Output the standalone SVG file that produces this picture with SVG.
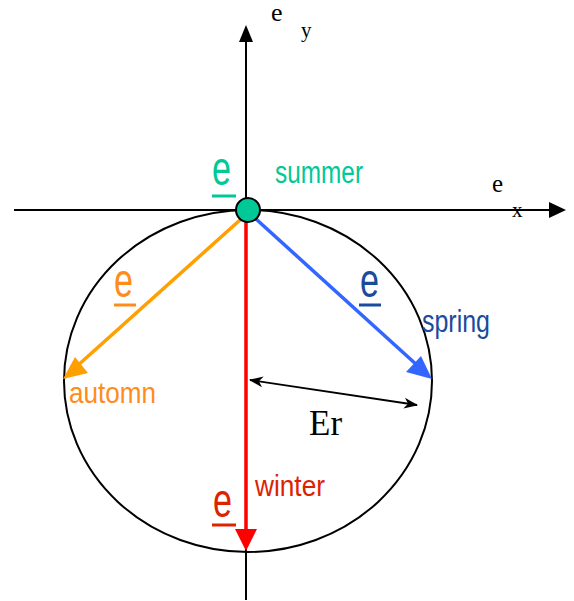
<svg xmlns="http://www.w3.org/2000/svg" width="574" height="601" viewBox="0 0 574 601">
<style>
.ax{stroke:#000;stroke-width:2;fill:none}
.serif{font-family:"Liberation Serif","Times New Roman",serif;fill:#000}
.sans{font-family:"Liberation Sans Narrow","Liberation Sans",Arial,sans-serif}
.vec{stroke-width:3.5;fill:none}
</style>
<defs>
<marker id="ah" markerWidth="14" markerHeight="14" refX="13" refY="7" orient="auto" markerUnits="userSpaceOnUse" viewBox="0 0 14 14">
<path d="M0,1.5 L14,7 L0,12.5 L4,7 Z" fill="#000"/>
</marker>
<marker id="ahs" markerWidth="14" markerHeight="14" refX="1" refY="7" orient="auto" markerUnits="userSpaceOnUse" viewBox="0 0 14 14">
<path d="M14,1.5 L0,7 L14,12.5 L10,7 Z" fill="#000"/>
</marker>
</defs>
<g id="connectors">
<line class="ax" x1="246" y1="600" x2="246" y2="40"/>
<polygon points="246,25 239,42 253,42" fill="#000"/>
<line class="ax" x1="14" y1="210" x2="551" y2="210"/>
<polygon points="566,210 549,202 549,218" fill="#000"/>
<ellipse cx="248" cy="381" rx="184" ry="171" fill="none" stroke="#000" stroke-width="2"/>
<line class="vec" stroke="#ff0000" x1="246" y1="222" x2="246" y2="532"/>
<polygon points="246,551 235,529 257,529" fill="#ff0000"/>
<line class="vec" stroke="#ffa000" x1="240" y1="220" x2="76" y2="367"/>
<polygon points="63,379 75,357 88,373" fill="#ffa000"/>
<line class="vec" stroke="#3366ff" x1="256" y1="219" x2="418" y2="366"/>
<polygon points="432,379 406,372 421,356" fill="#3366ff"/>
<line stroke="#000" stroke-width="1.8" x1="250" y1="380" x2="417" y2="405" marker-start="url(#ahs)" marker-end="url(#ah)"/>
</g>
<g id="axis-y">
<text class="serif" x="271" y="21" font-size="26">e</text>
<text class="serif" x="301" y="37" font-size="21">y</text>
</g>
<g id="axis-x">
<text class="serif" x="492" y="192" font-size="25">e</text>
<text class="serif" x="512" y="217" font-size="21">x</text>
</g>
<g id="summer">
<circle cx="248" cy="210" r="12" fill="#00c896" stroke="#000" stroke-width="2"/>
<text class="sans" x="212" y="185" font-size="48" fill="#00c896" textLength="19" lengthAdjust="spacingAndGlyphs">e</text>
<line x1="212" y1="196" x2="236" y2="196" stroke="#00c896" stroke-width="3"/>
<text class="sans" x="275" y="183" font-size="31" fill="#00c896" textLength="88" lengthAdjust="spacingAndGlyphs">summer</text>
</g>
<g id="automn">
<text class="sans" x="114" y="297" font-size="48" fill="#ff8c1a" textLength="19" lengthAdjust="spacingAndGlyphs">e</text>
<line x1="114" y1="305" x2="136" y2="305" stroke="#ff8c1a" stroke-width="3"/>
<text class="sans" x="69" y="403" font-size="30" fill="#ff8c1a" textLength="87" lengthAdjust="spacingAndGlyphs">automn</text>
</g>
<g id="spring">
<text class="sans" x="360" y="297" font-size="48" fill="#1a4b9c" textLength="19" lengthAdjust="spacingAndGlyphs">e</text>
<line x1="359" y1="305" x2="381" y2="305" stroke="#1a4b9c" stroke-width="3"/>
<text class="sans" x="422" y="332" font-size="31" fill="#1a4b9c" textLength="68" lengthAdjust="spacingAndGlyphs">spring</text>
</g>
<g id="winter">
<text class="sans" x="213" y="517" font-size="48" fill="#dd2200" textLength="19" lengthAdjust="spacingAndGlyphs">e</text>
<line x1="212" y1="525" x2="236" y2="525" stroke="#dd2200" stroke-width="3"/>
<text class="sans" x="255" y="496" font-size="30" fill="#dd2200" textLength="70" lengthAdjust="spacingAndGlyphs">winter</text>
</g>
<g id="radius">
<text class="serif" x="309" y="435" font-size="35">Er</text>
</g>
</svg>
